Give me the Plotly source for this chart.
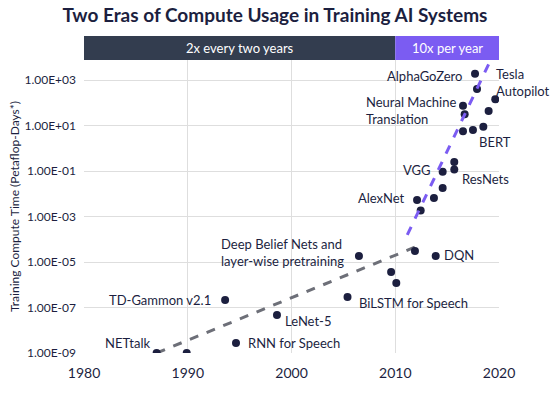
import plotly.graph_objects as go

# ---- data ----
years = [1987.0, 1989.9, 1993.6, 1994.65, 1998.6, 2005.4, 2006.5, 2009.6, 2010.1, 2011.9, 2013.9,
         2012.1, 2012.45, 2013.73, 2014.57, 2014.57, 2015.69, 2015.69, 2016.53, 2017.49, 2018.49,
         2016.53, 2016.69, 2017.69, 2017.88, 2019.0, 2019.64]
log_compute = [-9.0, -9.0, -6.67, -8.56, -7.33, -6.54, -4.74, -5.44, -5.92, -4.52, -4.74,
               -2.27, -2.74, -2.19, -1.03, -1.75, -0.60, -0.93, 0.745, 0.80, 0.95,
               1.87, 1.49, 3.28, 2.60, 1.64, 2.15]
compute = [10 ** v for v in log_compute]

trend1_years = [1987.0, 2012.15]
trend1_compute = [1e-9, 10 ** -4.30]
trend2_years = [2011.16, 2019.07]
trend2_compute = [10 ** -3.81, 10 ** 3.76]

label_text = ["NETtalk", "TD-Gammon v2.1", "RNN for Speech", "LeNet-5", "BiLSTM for Speech",
              "Deep Belief Nets and<br>layer-wise pretraining", "DQN", "AlphaGoZero",
              "Tesla<br>Autopilot", "Neural Machine<br>Translation", "BERT", "VGG", "ResNets", "AlexNet"]
label_x = [1986.65, 1992.4, 1995.6, 1999.15, 2006.35, 2005.25, 2014.53, 2016.63,
           2019.55, 2007.02, 2017.88, 2013.64, 2016.24, 2011.1]
label_logy = [-8.56, -6.67, -8.55, -7.59, -6.82, -4.60, -4.68, 3.18,
              2.88, 1.66, 0.26, -0.97, -1.37, -2.17]
label_anchor = ["right", "right", "left", "left", "left", "right", "left", "right",
                "left", "left", "left", "right", "left", "right"]

ytick_vals = [1e-9, 1e-7, 1e-5, 1e-3, 1e-1, 1e1, 1e3]
ytick_text = ["1.00E-09", "1.00E-07", "1.00E-05", "1.00E-03", "1.00E-01", "1.00E+01", "1.00E+03"]
xtick_vals = [1980, 1990, 2000, 2010, 2020]

eras = ["2x every two years", "10x per year"]
era_start = [1980, 2010]
era_end = [2010, 2020]
era_colors = ["#333d4f", "#7b5cf2"]

NAVY = "#1c1f3f"
FONT = "Lato, Open Sans, sans-serif"

fig = go.Figure()
fig.add_trace(go.Scatter(x=trend1_years, y=trend1_compute, mode="lines",
                         line=dict(color="#6d6f78", width=3, dash="dash"), hoverinfo="skip"))
fig.add_trace(go.Scatter(x=years, y=compute, mode="markers",
                         marker=dict(color=NAVY, size=8), hoverinfo="skip"))
fig.add_trace(go.Scatter(x=trend2_years, y=trend2_compute, mode="lines",
                         line=dict(color="#7b5cf2", width=3, dash="dash"), hoverinfo="skip"))

for t, x, y, a in zip(label_text, label_x, label_logy, label_anchor):
    fig.add_annotation(x=x, y=y, xref="x", yref="y", text=t, showarrow=False,
                       xanchor=a, yanchor="middle", align="left",
                       font=dict(family=FONT, size=13, color=NAVY))

for name, s, e, c in zip(eras, era_start, era_end, era_colors):
    fig.add_shape(type="rect", xref="x", yref="paper", x0=s, x1=e, y0=1.0, y1=1.082,
                  fillcolor=c, line=dict(width=0), layer="above")
    fig.add_annotation(x=(s + e) / 2, y=1.041, xref="x", yref="paper", text=name,
                       showarrow=False, xanchor="center", yanchor="middle",
                       font=dict(family=FONT, size=13, color="white"))

fig.update_layout(
    width=550, height=396,
    margin=dict(l=84, r=51, t=60, b=43, autoexpand=False),
    paper_bgcolor="white", plot_bgcolor="white",
    showlegend=False,
    title=dict(text="<b>Two Eras of Compute Usage in Training AI Systems</b>",
               x=0.5, xanchor="center", y=0.962, yanchor="middle",
               font=dict(family=FONT, size=19, color=NAVY)),
    xaxis=dict(range=[1980, 2020], tickvals=xtick_vals, showgrid=True, gridcolor="#dedede",
               gridwidth=1, zeroline=False, showline=False, ticks="", automargin=False,
               ticklabelstandoff=10,
               tickfont=dict(family=FONT, size=14, color=NAVY)),
    yaxis=dict(type="log", range=[-9, 3.88], tickvals=ytick_vals, ticktext=ytick_text,
               showgrid=True, gridcolor="#dedede", gridwidth=1, zeroline=False, showline=False,
               ticks="", automargin=False, ticklabelstandoff=7,
               tickfont=dict(family=FONT, size=12, color=NAVY),
               title=dict(text="Training Compute Time (Petaflop-Days*)", standoff=2,
                          font=dict(family=FONT, size=12, color=NAVY))),
)

fig.write_html("out.html", config={"displayModeBar": False},
               post_script="document.body.style.margin='0';")
